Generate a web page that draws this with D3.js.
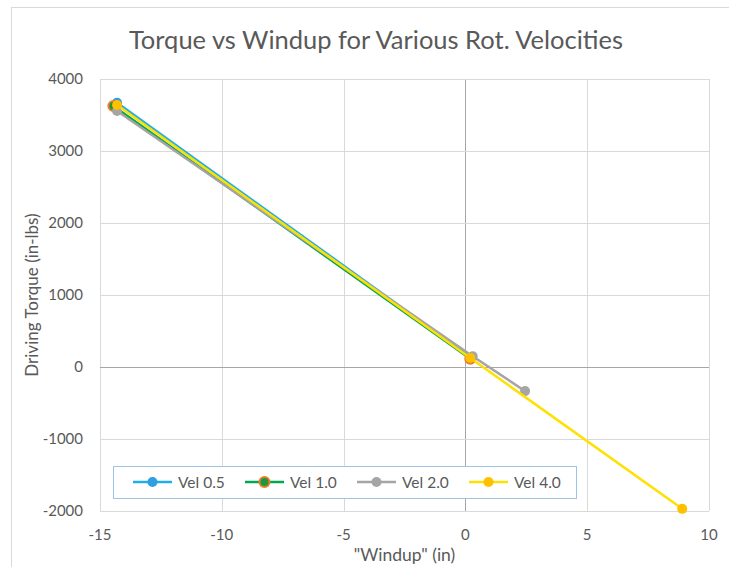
<!DOCTYPE html>
<html>
<head>
<meta charset="utf-8">
<script src="https://cdn.jsdelivr.net/npm/d3@7"></script>
<style>
  body { margin: 0; background: #fff; }
  text { font-family: "Lato", "Open Sans", sans-serif; fill: #595959; }
</style>
</head>
<body>
<div id="chart"></div>
<script>
// series data: [windup (in), torque (in-lbs)]
const seriesNames = ["Vel 0.5", "Vel 1.0", "Vel 2.0", "Vel 4.0"];
const vel05 = [[-14.3, 3670], [0.25, 130]];
const vel10 = [[-14.45, 3625], [0.2, 115]];
const vel20 = [[-14.3, 3555], [0.3, 150], [2.45, -335]];
const vel40 = [[-14.3, 3640], [0.2, 125], [8.9, -1970]];
const xTicks = [-15, -10, -5, 0, 5, 10];
const yTicks = [-2000, -1000, 0, 1000, 2000, 3000, 4000];

const lineColors = ["#1faee8", "#00a84f", "#a5a5a5", "#ffe000"];
const markerColors = ["#2e9fe0", "#f07a2b", "#a5a5a5", "#ffc000"];
const markerInner = [null, "#1a9a3a", null, null];

const W = 729, H = 567;
const margin = {top: 79, right: 20, bottom: 56, left: 100};
const width = 709 - margin.left;
const height = 511 - margin.top;

const svg = d3.select("#chart").append("svg")
    .attr("width", W)
    .attr("height", H);

// outer chart border
svg.append("rect")
    .attr("x", 11.5).attr("y", 7.5)
    .attr("width", W).attr("height", H)
    .attr("fill", "none")
    .attr("stroke", "#d9d9d9");

const g = svg.append("g")
    .attr("transform", `translate(${margin.left},${margin.top})`);

const x = d3.scaleLinear().domain([-15, 10]).range([0, width]);
const y = d3.scaleLinear().domain([-2000, 4000]).range([height, 0]);

// gridlines
g.selectAll(".vgrid").data(xTicks).enter().append("line")
    .attr("x1", d => Math.round(x(d)) + 0.5).attr("x2", d => Math.round(x(d)) + 0.5)
    .attr("y1", 0).attr("y2", height)
    .attr("stroke", d => d === 0 ? "#a6a6a6" : "#d9d9d9");
g.selectAll(".hgrid").data(yTicks).enter().append("line")
    .attr("x1", 0).attr("x2", width)
    .attr("y1", d => Math.round(y(d)) + 0.5).attr("y2", d => Math.round(y(d)) + 0.5)
    .attr("stroke", d => d === 0 ? "#a6a6a6" : "#d9d9d9");

// tick labels
g.selectAll(".xlab").data(xTicks).enter().append("text")
    .attr("x", d => x(d))
    .attr("y", height + 29)
    .attr("text-anchor", "middle")
    .style("font-size", "15px")
    .text(d => d);
g.selectAll(".ylab").data(yTicks).enter().append("text")
    .attr("x", -17)
    .attr("y", d => y(d) + 5)
    .attr("text-anchor", "end")
    .style("font-size", "15px")
    .text(d => d);

// axis titles
svg.append("text")
    .attr("x", margin.left + width / 2)
    .attr("y", 561)
    .attr("text-anchor", "middle")
    .style("font-size", "17.5px")
    .text("\"Windup\" (in)");
svg.append("text")
    .attr("transform", `translate(38,${margin.top + height / 2}) rotate(-90)`)
    .attr("text-anchor", "middle")
    .style("font-size", "17px")
    .text("Driving Torque (in-lbs)");

// title
svg.append("text")
    .attr("x", 376)
    .attr("y", 49)
    .attr("text-anchor", "middle")
    .style("font-size", "25.5px")
    .text("Torque vs Windup for Various Rot. Velocities");

const allSeries = [vel05, vel10, vel20, vel40];
const line = d3.line().x(d => x(d[0])).y(d => y(d[1]));

allSeries.forEach((s, i) => {
    g.append("path")
        .datum(s)
        .attr("d", line)
        .attr("fill", "none")
        .attr("stroke", lineColors[i])
        .attr("stroke-width", 2.5);
    g.selectAll(".m" + i).data(s).enter().append("circle")
        .attr("cx", d => x(d[0]))
        .attr("cy", d => y(d[1]))
        .attr("r", 5)
        .attr("fill", markerInner[i] || markerColors[i])
        .attr("stroke", markerColors[i])
        .attr("stroke-width", markerInner[i] ? 2 : 0);
});

// legend
const legend = svg.append("g").attr("transform", "translate(113,466)");
legend.append("rect")
    .attr("x", 0.5).attr("y", 0.5)
    .attr("width", 463).attr("height", 32)
    .attr("fill", "#fff")
    .attr("stroke", "#9dc3e6");
const legendX = [20, 132, 244, 356];
seriesNames.forEach((name, i) => {
    const item = legend.append("g").attr("transform", `translate(${legendX[i]},16)`);
    item.append("line")
        .attr("x1", 0).attr("x2", 39)
        .attr("stroke", lineColors[i])
        .attr("stroke-width", 2.5);
    item.append("circle")
        .attr("cx", 19.5).attr("cy", 0)
        .attr("r", 5)
        .attr("fill", markerInner[i] || markerColors[i])
        .attr("stroke", markerColors[i])
        .attr("stroke-width", markerInner[i] ? 2 : 0);
    item.append("text")
        .attr("x", 45).attr("y", 5.5)
        .style("font-size", "15.5px")
        .text(name);
});
</script>
</body>
</html>
